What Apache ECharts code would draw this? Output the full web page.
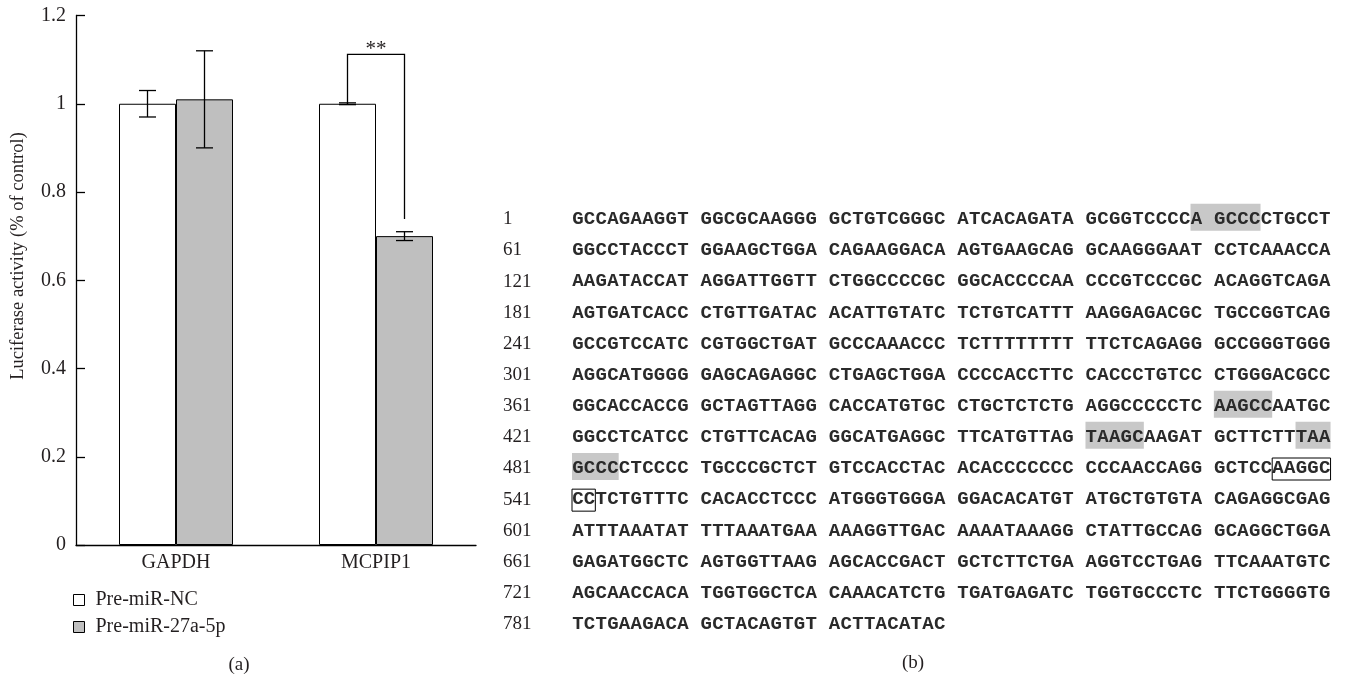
<!DOCTYPE html>
<html><head><meta charset="utf-8">
<script src="https://cdn.jsdelivr.net/npm/echarts@6/dist/echarts.min.js"></script>
<style>html,body{margin:0;padding:0;background:#fff}#c{width:1345px;height:678px}</style>
</head><body><div id="c"></div>
<script>
// ---------- Panel (a) data ----------
const categories = ['GAPDH', 'MCPIP1'];
const seriesNames = ['Pre-miR-NC', 'Pre-miR-27a-5p'];
const ncValues = [1.0, 1.0];
const ncErrors = [0.03, 0.002];
const mirValues = [1.01, 0.70];
const mirErrors = [0.11, 0.01];
const yAxisTitle = 'Luciferase activity (% of control)';
const sigCategory = 1;          // MCPIP1
const sigTop = 1.112;           // bracket top value
const sigRightBottom = 0.739;   // right leg end value
const sigLabel = '**';
const panelLabels = ['(a)', '(b)'];

// ---------- Panel (b) data ----------
const rowNumbers = [1, 61, 121, 181, 241, 301, 361, 421, 481, 541, 601, 661, 721, 781];
const sequenceRows = [
  'GCCAGAAGGT GGCGCAAGGG GCTGTCGGGC ATCACAGATA GCGGTCCCCA GCCCCTGCCT',
  'GGCCTACCCT GGAAGCTGGA CAGAAGGACA AGTGAAGCAG GCAAGGGAAT CCTCAAACCA',
  'AAGATACCAT AGGATTGGTT CTGGCCCCGC GGCACCCCAA CCCGTCCCGC ACAGGTCAGA',
  'AGTGATCACC CTGTTGATAC ACATTGTATC TCTGTCATTT AAGGAGACGC TGCCGGTCAG',
  'GCCGTCCATC CGTGGCTGAT GCCCAAACCC TCTTTTTTTT TTCTCAGAGG GCCGGGTGGG',
  'AGGCATGGGG GAGCAGAGGC CTGAGCTGGA CCCCACCTTC CACCCTGTCC CTGGGACGCC',
  'GGCACCACCG GCTAGTTAGG CACCATGTGC CTGCTCTCTG AGGCCCCCTC AAGCCAATGC',
  'GGCCTCATCC CTGTTCACAG GGCATGAGGC TTCATGTTAG TAAGCAAGAT GCTTCTTTAA',
  'GCCCCTCCCC TGCCCGCTCT GTCCACCTAC ACACCCCCCC CCCAACCAGG GCTCCAAGGC',
  'CCTCTGTTTC CACACCTCCC ATGGGTGGGA GGACACATGT ATGCTGTGTA CAGAGGCGAG',
  'ATTTAAATAT TTTAAATGAA AAAGGTTGAC AAAATAAAGG CTATTGCCAG GCAGGCTGGA',
  'GAGATGGCTC AGTGGTTAAG AGCACCGACT GCTCTTCTGA AGGTCCTGAG TTCAAATGTC',
  'AGCAACCACA TGGTGGCTCA CAAACATCTG TGATGAGATC TGGTGCCCTC TTCTGGGGTG',
  'TCTGAAGACA GCTACAGTGT ACTTACATAC'
];
// [row, first character column, number of columns]
const highlights = [[0, 53, 6], [6, 55, 5], [7, 44, 5], [7, 62, 3], [8, 0, 4]];
const boxes = [[8, 60, 5], [9, 0, 2]];

// ---------- styling ----------
const SERIF = '"Liberation Serif", "Times New Roman", serif';
const MONO = '"Liberation Mono", "Courier New", monospace';
const TXT = '#231f20';
const BAR_FRAC = 0.285;

function errorBarRender(sign) {
  return function (params, api) {
    const ci = api.value(0), v = api.value(1), e = api.value(2);
    const band = api.size([1, 0])[0];
    const x = api.coord([ci, v])[0] + sign * band * BAR_FRAC / 2;
    const yt = api.coord([ci, v + e])[1];
    const yb = api.coord([ci, v - e])[1];
    const cap = 8.5;
    const st = { stroke: '#000', lineWidth: 1.3 };
    return { type: 'group', children: [
      { type: 'line', shape: { x1: x, y1: yt, x2: x, y2: yb }, style: st },
      { type: 'line', shape: { x1: x - cap, y1: yt, x2: x + cap, y2: yt }, style: st },
      { type: 'line', shape: { x1: x - cap, y1: yb, x2: x + cap, y2: yb }, style: st }
    ]};
  };
}

function bracketRender(params, api) {
  const ci = api.value(0), top = api.value(1), rb = api.value(2), lb = api.value(3);
  const band = api.size([1, 0])[0];
  const cx = api.coord([ci, top])[0];
  const xl = cx - band * BAR_FRAC / 2, xr = cx + band * BAR_FRAC / 2;
  const yTop = api.coord([ci, top])[1];
  return { type: 'group', children: [
    { type: 'polyline', shape: { points: [[xl, api.coord([ci, lb])[1]], [xl, yTop], [xr, yTop], [xr, api.coord([ci, rb])[1]]] },
      style: { stroke: '#000', lineWidth: 1.3, fill: null } },
    { type: 'text', x: cx, y: yTop - 5, style: { text: sigLabel, font: '21px ' + SERIF, fill: TXT, align: 'center', verticalAlign: 'middle' } }
  ]};
}

// ---------- Panel (b) graphics ----------
const SEQ_X = 572, CH_W = 11.67, ROW_Y0 = 219.3, ROW_H = 31.15;
const graphics = [];
highlights.forEach(function (h) {
  graphics.push({ type: 'rect', z: 1, shape: { x: SEQ_X + h[1] * CH_W, y: ROW_Y0 + h[0] * ROW_H - 15.5, width: h[2] * CH_W, height: 27 },
    style: { fill: '#c8c8c8' } });
});
sequenceRows.forEach(function (row, r) {
  const y = ROW_Y0 + r * ROW_H;
  graphics.push({ type: 'text', z: 2, x: 503, y: y, style: { text: String(rowNumbers[r]), font: '19px ' + SERIF, fill: TXT, align: 'left', verticalAlign: 'middle' } });
  for (let i = 0; i < row.length; i++) {
    const ch = row[i];
    if (ch === ' ') continue;
    graphics.push({ type: 'text', z: 2, x: SEQ_X + (i + 0.5) * CH_W, y: y, style: { text: ch, font: 'bold 19px ' + MONO, fill: '#2a2a2a', align: 'center', verticalAlign: 'middle' } });
  }
});
boxes.forEach(function (b) {
  graphics.push({ type: 'rect', z: 3, shape: { x: SEQ_X + b[1] * CH_W, y: ROW_Y0 + b[0] * ROW_H - 10.5, width: b[2] * CH_W, height: 22 },
    style: { fill: null, stroke: '#000', lineWidth: 1 } });
});
graphics.push({ type: 'text', x: 18, y: 256, rotation: Math.PI / 2, style: { text: yAxisTitle, font: '18.5px ' + SERIF, fill: TXT, align: 'center', verticalAlign: 'middle' } });
graphics.push({ type: 'text', x: 239, y: 665, style: { text: panelLabels[0], font: '19px ' + SERIF, fill: TXT, align: 'center', verticalAlign: 'middle' } });
graphics.push({ type: 'text', x: 913, y: 663, style: { text: panelLabels[1], font: '19px ' + SERIF, fill: TXT, align: 'center', verticalAlign: 'middle' } });

const chart = echarts.init(document.getElementById('c'), null, { renderer: 'canvas' });
chart.setOption({
  backgroundColor: '#fff',
  animation: false,
  grid: { left: 76, right: 869, top: 15.5, bottom: 133, containLabel: false, outerBoundsMode: 'none' },
  legend: {
    data: seriesNames, orient: 'vertical', left: 68, top: 584,
    icon: 'rect', itemWidth: 11, itemHeight: 11, itemGap: 5,
    itemStyle: { borderColor: '#000', borderWidth: 1 },
    textStyle: { fontFamily: SERIF, fontSize: 20, color: TXT, lineHeight: 22, padding: [0, 0, 0, 6] },
    selectedMode: false
  },
  xAxis: {
    type: 'category', data: categories,
    axisLine: { lineStyle: { color: '#000', width: 1.3 } },
    axisTick: { inside: true, length: 9, lineStyle: { color: '#000', width: 1.3 } },
    axisLabel: { fontFamily: SERIF, fontSize: 20, color: TXT, margin: 8 }
  },
  yAxis: {
    type: 'value', min: 0, max: 1.2, interval: 0.2,
    splitLine: { show: false },
    axisLine: { show: true, lineStyle: { color: '#000', width: 1.3 } },
    axisTick: { show: true, inside: true, length: 9, lineStyle: { color: '#000', width: 1.3 } },
    axisLabel: { fontFamily: SERIF, fontSize: 20, color: TXT, margin: 10 }
  },
  graphic: graphics,
  series: [
    { name: seriesNames[0], type: 'bar', data: ncValues, barWidth: (BAR_FRAC * 100) + '%', barGap: '0%',
      itemStyle: { color: '#ffffff', borderColor: '#000', borderWidth: 1 } },
    { name: seriesNames[1], type: 'bar', data: mirValues, barWidth: (BAR_FRAC * 100) + '%', barGap: '0%',
      itemStyle: { color: '#bfbfbf', borderColor: '#000', borderWidth: 1 } },
    { name: 'errNC', type: 'custom', renderItem: errorBarRender(-1), z: 5,
      data: ncValues.map(function (v, i) { return [i, v, ncErrors[i]]; }) },
    { name: 'errMiR', type: 'custom', renderItem: errorBarRender(1), z: 5,
      data: mirValues.map(function (v, i) { return [i, v, mirErrors[i]]; }) },
    { name: 'significance', type: 'custom', renderItem: bracketRender, z: 5,
      data: [[sigCategory, sigTop, sigRightBottom, ncValues[sigCategory]]] }
  ]
});
</script></body></html>
